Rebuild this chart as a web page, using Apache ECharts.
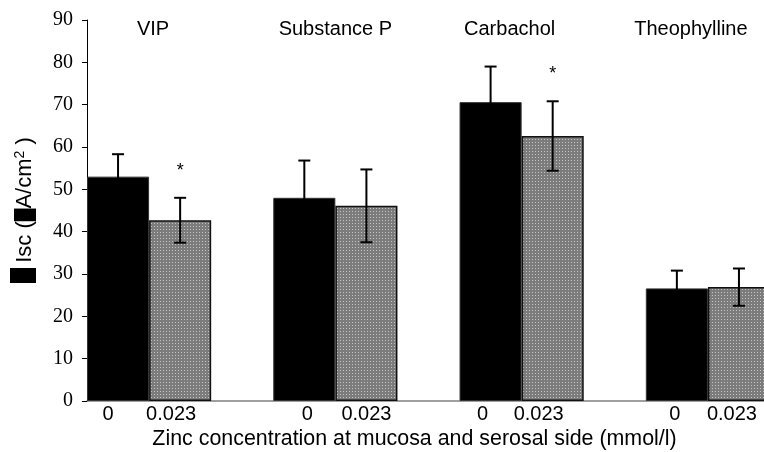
<!DOCTYPE html>
<html>
<head>
<meta charset="utf-8">
<script src="https://cdn.jsdelivr.net/npm/echarts@6/dist/echarts.min.js"></script>
<style>html,body{margin:0;padding:0;background:#fff;}#c{width:764px;height:452px;}</style>
</head>
<body>
<div id="c"></div>
<script>
// ---- data ----
const groups = ['VIP', 'Substance P', 'Carbachol', 'Theophylline'];
const zincLevels = ['0', '0.023'];
const controlMean = [53.0, 48.0, 70.6, 26.6];
const controlSem = [5.3, 8.8, 8.4, 4.2];
const zincMean = [42.7, 46.1, 62.6, 26.9];
const zincSem = [5.3, 8.6, 8.2, 4.4];
const significant = [true, false, true, false];
const yTicks = [0, 10, 20, 30, 40, 50, 60, 70, 80, 90];

// ---- layout helpers (not data) ----
const labelShift = [-10, -9, 0, 3, 0, 0, -8, -14, 0, -2, -7];
const titleShift = [4, 0, -12, -17];

// category slots: control, zinc, gap ...
const slots = [];
const controlData = [];
const zincData = [];
groups.forEach((g, i) => {
  slots.push(zincLevels[0]); controlData.push(controlMean[i]); zincData.push('-');
  slots.push(zincLevels[1]); controlData.push('-'); zincData.push(zincMean[i]);
  if (i < groups.length - 1) { slots.push(''); controlData.push('-'); zincData.push('-'); }
});

// dotted gray pattern
const pc = document.createElement('canvas');
pc.width = 3; pc.height = 3;
const pctx = pc.getContext('2d');
pctx.fillStyle = '#7c7c7c'; pctx.fillRect(0, 0, 3, 3);
pctx.fillStyle = '#c4c4c4'; pctx.fillRect(1, 1, 1, 1);

const rich = {};
labelShift.forEach((s, k) => {
  rich['o' + k] = {
    fontFamily: 'Liberation Sans, Arial', fontSize: 20, color: '#000',
    padding: s < 0 ? [0, -2 * s, 0, 0] : [0, 0, 0, 2 * s]
  };
});

const chart = echarts.init(document.getElementById('c'), null, {renderer: 'canvas'});
chart.setOption({
  animation: false,
  backgroundColor: '#fff',
  grid: {left: 87, top: 20, width: 683, bottom: 51, containLabel: false, outerBoundsMode: 'none'},
  xAxis: {
    type: 'category',
    data: slots,
    axisLine: {lineStyle: {color: '#808080', width: 1.5}},
    axisTick: {show: false},
    axisLabel: {
      interval: 0, margin: 3,
      formatter: (v, idx) => v === '' ? '' : '{o' + idx + '|' + v + '}',
      rich: rich
    },
    name: 'Zinc concentration at mucosa and serosal side (mmol/l)',
    nameLocation: 'middle',
    nameGap: 27,
    nameTextStyle: {fontFamily: 'Liberation Sans, Arial', fontSize: 21.4, color: '#000', padding: [0, 28, 0, 0]}
  },
  yAxis: {
    type: 'value', min: yTicks[0], max: yTicks[yTicks.length - 1], interval: 10,
    axisLine: {show: true, lineStyle: {color: '#000', width: 1}},
    axisTick: {show: true, inside: false, length: 5, lineStyle: {color: '#000'}},
    axisLabel: {fontFamily: 'Liberation Serif, Times New Roman', fontSize: 20, color: '#000', margin: 14},
    splitLine: {show: false}
  },
  graphic: [
    {
      type: 'text', x: 25, y: 200, rotation: Math.PI / 2,
      style: {
        text: '{t|Isc (}{mu|µ}{t|A/cm}{sup|2}{t| )}',
        align: 'center', verticalAlign: 'middle',
        rich: {
          t: {fontFamily: 'Liberation Sans, Arial', fontSize: 22, color: '#000'},
          mu: {fontFamily: 'Liberation Sans, Arial', fontSize: 22, color: '#000', backgroundColor: '#000'},
          sup: {fontFamily: 'Liberation Sans, Arial', fontSize: 14, color: '#000', verticalAlign: 'top', padding: [0, 0, 10, 0]}
        }
      }
    },
    {type: 'rect', shape: {x: 10, y: 268, width: 26, height: 15}, style: {fill: '#000'}}
  ],
  series: [
    {
      name: 'control', type: 'bar', data: controlData,
      barWidth: '100%', barGap: '-100%', barCategoryGap: 0,
      itemStyle: {color: '#000', borderColor: '#333', borderWidth: 1}
    },
    {
      name: 'zinc', type: 'bar', data: zincData,
      barWidth: '100%', barGap: '-100%', barCategoryGap: 0,
      itemStyle: {color: {image: pc, repeat: 'repeat'}, borderColor: '#111', borderWidth: 1.5}
    },
    {
      name: 'extras', type: 'custom', z: 10,
      data: groups.map((g, i) => [3 * i, controlMean[i]]),
      renderItem: function (params, api) {
        const i = params.dataIndex;
        const band = api.size([1, 0])[0];
        const children = [];
        const pairs = [[3 * i, controlMean[i], controlSem[i]], [3 * i + 1, zincMean[i], zincSem[i]]];
        let zincTopY = 0, zincX = 0;
        pairs.forEach((p, k) => {
          const top = api.coord([p[0], p[1] + p[2]]);
          const bot = api.coord([p[0], p[1] - p[2]]);
          const x = top[0];
          const st = {stroke: '#000', lineWidth: 2};
          children.push({type: 'line', shape: {x1: x, y1: top[1], x2: x, y2: bot[1]}, style: st});
          children.push({type: 'line', shape: {x1: x - 6, y1: top[1], x2: x + 6, y2: top[1]}, style: st});
          children.push({type: 'line', shape: {x1: x - 6, y1: bot[1], x2: x + 6, y2: bot[1]}, style: st});
          if (k === 1) { zincTopY = top[1]; zincX = x; }
        });
        if (significant[i]) {
          children.push({type: 'text', x: zincX, y: zincTopY - 27,
            style: {text: '*', align: 'center', verticalAlign: 'middle', fontFamily: 'Liberation Sans, Arial', fontSize: 18, fill: '#000'}});
        }
        const c0 = api.coord([3 * i, 90]);
        children.push({type: 'text', x: c0[0] + band / 2 + titleShift[i], y: c0[1] + 9,
          style: {text: groups[i], align: 'center', verticalAlign: 'middle', fontFamily: 'Liberation Sans, Arial', fontSize: 20, fill: '#000'}});
        return {type: 'group', children: children};
      }
    }
  ]
});
</script>
</body>
</html>
